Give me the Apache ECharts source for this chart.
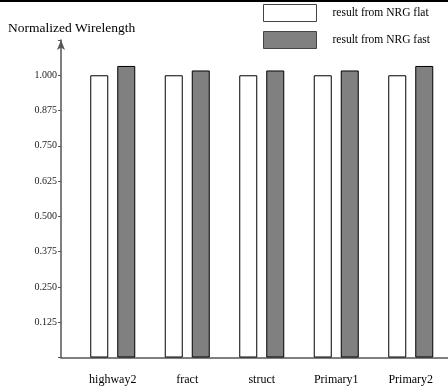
<!DOCTYPE html>
<html>
<head>
<meta charset="utf-8">
<script src="https://cdn.jsdelivr.net/npm/echarts@6/dist/echarts.min.js"></script>
<style>html,body{margin:0;padding:0;background:#fff;}#c{width:448px;height:390px;}</style>
</head>
<body>
<div id="c"></div>
<script>
const categories = ['highway2', 'fract', 'struct', 'Primary1', 'Primary2'];
const nrgFlat = [1.000, 1.000, 1.000, 1.000, 1.000];
const nrgFast = [1.033, 1.017, 1.017, 1.017, 1.033];
const yTicks = [0.125, 0.250, 0.375, 0.500, 0.625, 0.750, 0.875, 1.000];
const seriesNames = ['result from NRG flat', 'result from NRG fast'];
const yTitle = 'Normalized Wirelength';

const FONT = '"Liberation Serif", "DejaVu Serif", serif';
const chart = echarts.init(document.getElementById('c'), null, {renderer: 'canvas'});
chart.setOption({
  animation: false,
  backgroundColor: '#fff',
  title: {
    text: yTitle, left: 3, top: 16,
    textStyle: {fontFamily: FONT, fontSize: 13.5, fontWeight: 'normal', color: '#000'}
  },
  legend: {
    orient: 'vertical', left: 263, top: 4, padding: 0,
    itemWidth: 53, itemHeight: 17, itemGap: 9,
    icon: 'rect',
    itemStyle: {borderWidth: 1, borderColor: '#444'},
    textStyle: {fontFamily: FONT, fontSize: 11.5, color: '#000', padding: [0, 0, 0, 11]},
    data: seriesNames
  },
  graphic: [{type: 'rect', shape: {x: 0, y: 0, width: 448, height: 2}, style: {fill: '#000'}}],
  grid: [
    {left: 61, right: 0, top: 40, bottom: 32.5, containLabel: false},
    {left: 75.5, width: 385, top: 40, bottom: 32.5, containLabel: false}
  ],
  xAxis: [
    {gridIndex: 0, type: 'value', min: 0, max: 1,
     axisLine: {show: true, lineStyle: {color: '#555', width: 1.5}},
     axisTick: {show: false}, axisLabel: {show: false}, splitLine: {show: false}},
    {gridIndex: 1, type: 'category', data: categories,
     axisLine: {show: false}, axisTick: {show: false},
     axisLabel: {fontFamily: FONT, fontSize: 12, color: '#000', margin: 16}}
  ],
  yAxis: [
    {gridIndex: 0, type: 'value', min: 0, max: 1.125, interval: 0.125,
     axisLine: {show: true, symbol: ['none', 'arrow'], symbolSize: [6, 10], symbolOffset: [0, 0],
                lineStyle: {color: '#555', width: 1.5}},
     axisTick: {show: true, length: 3, lineStyle: {color: '#555'}},
     splitLine: {show: false},
     axisLabel: {fontFamily: FONT, fontSize: 10, color: '#222', margin: 4,
       formatter: function (v) {
         const hit = yTicks.some(t => Math.abs(t - v) < 1e-6);
         return hit ? v.toFixed(3) : '';
       }}},
    {gridIndex: 1, type: 'value', min: 0, max: 1.125, show: false, splitLine: {show: false}}
  ],
  series: [
    {name: seriesNames[0], type: 'bar', xAxisIndex: 1, yAxisIndex: 1, data: nrgFlat,
     barWidth: 18, barGap: '50%',
     itemStyle: {color: '#fff', borderColor: '#000', borderWidth: 1}},
    {name: seriesNames[1], type: 'bar', xAxisIndex: 1, yAxisIndex: 1, data: nrgFast,
     barWidth: 18, barGap: '50%',
     itemStyle: {color: '#808080', borderColor: '#000', borderWidth: 1}}
  ]
});
</script>
</body>
</html>
